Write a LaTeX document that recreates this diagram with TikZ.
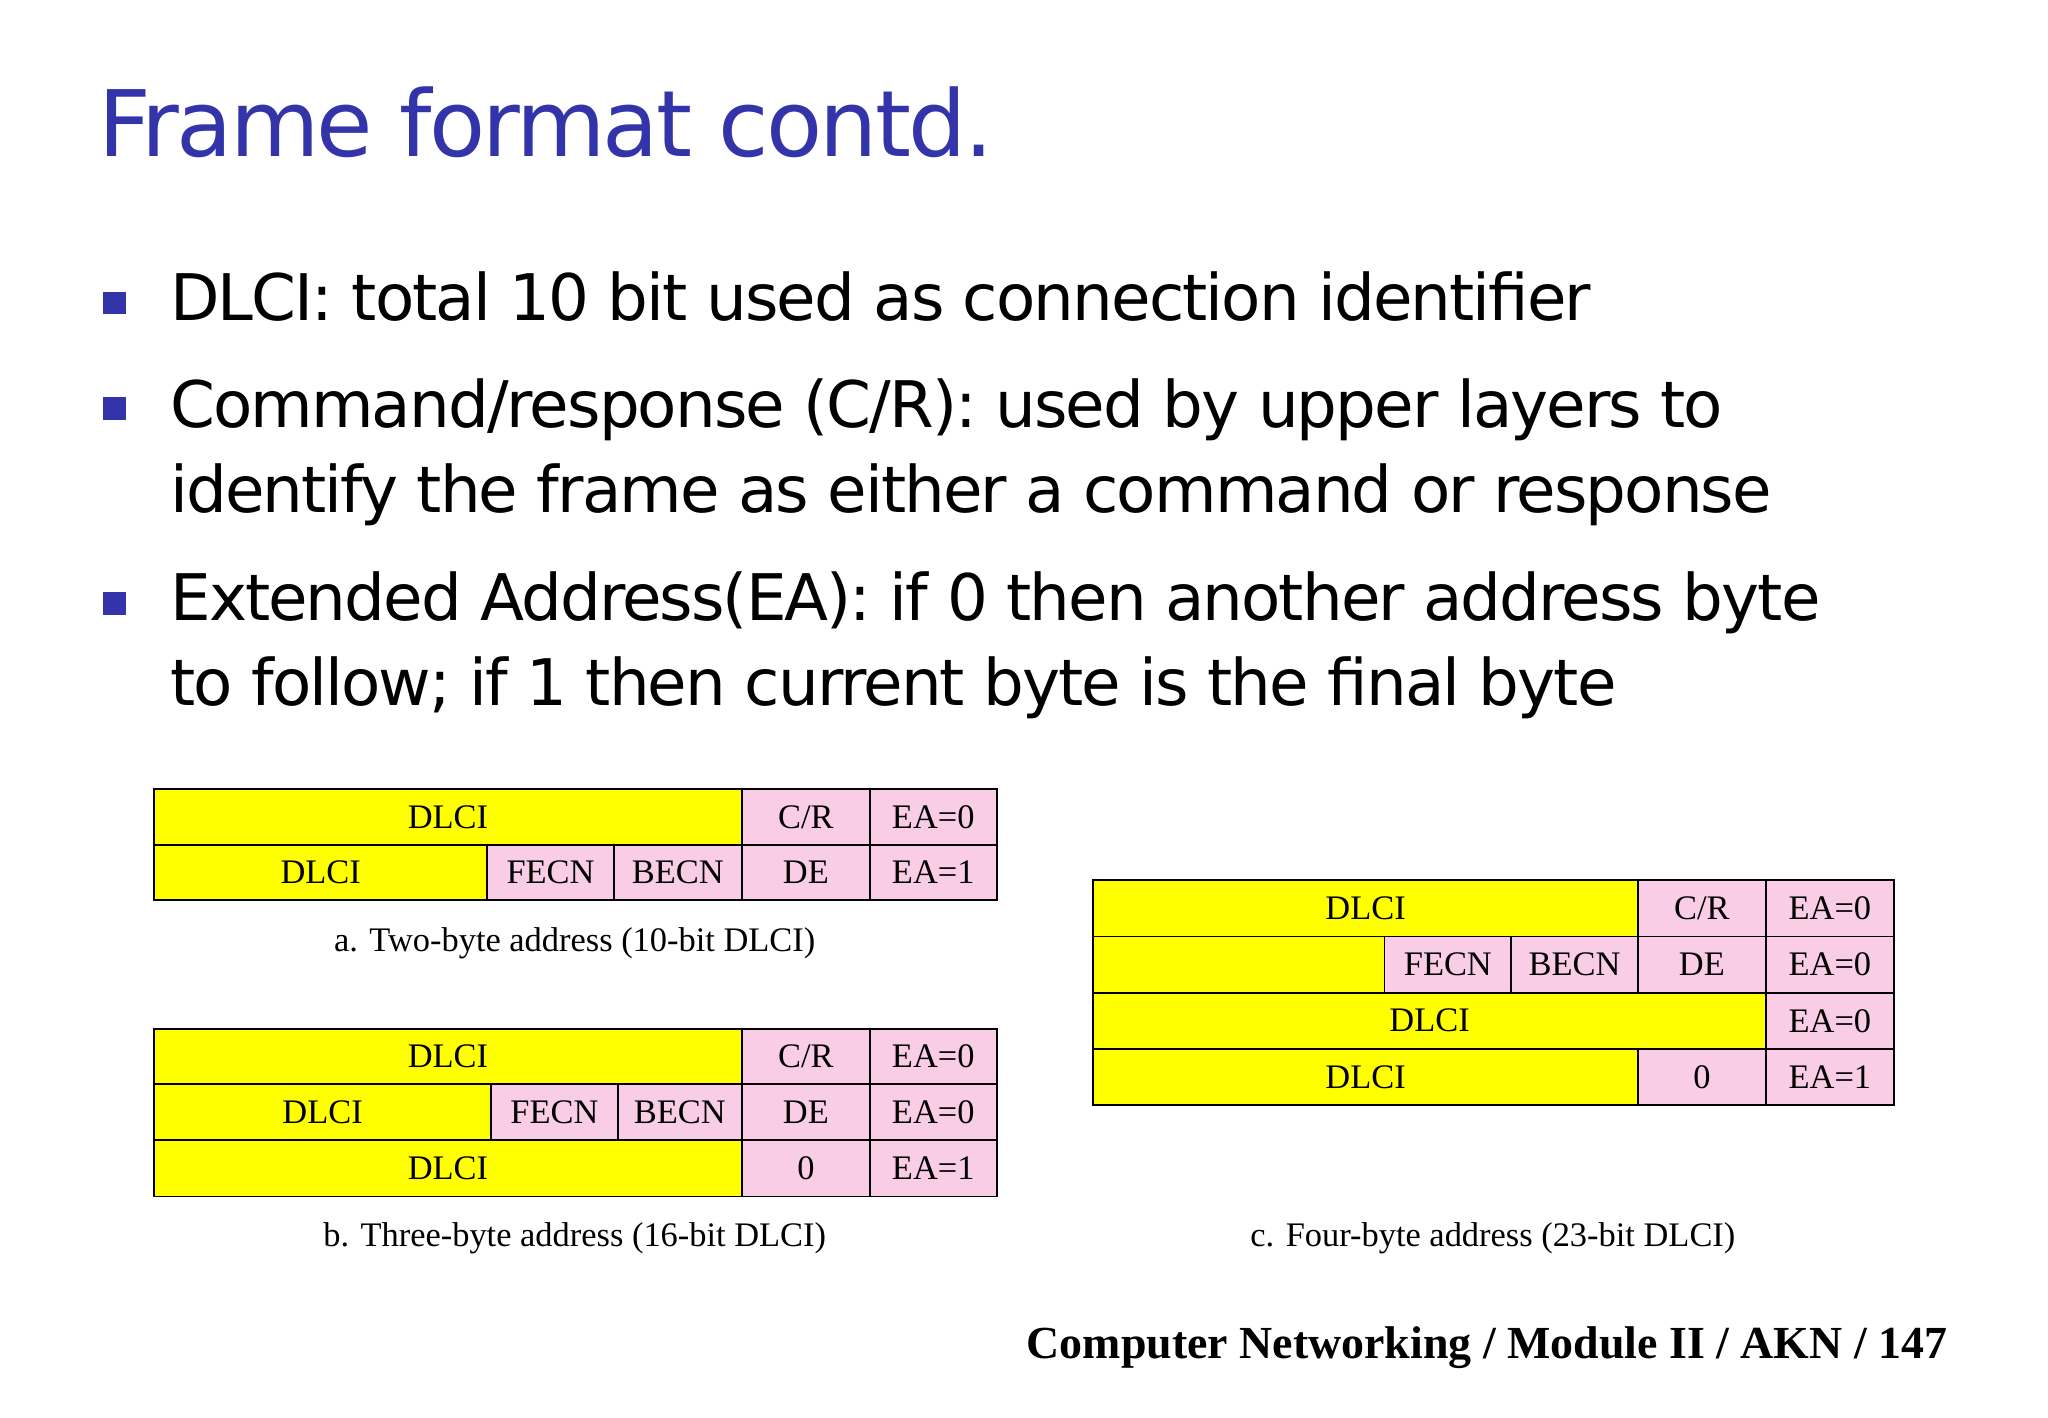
\documentclass[tikz,border=0pt]{standalone}
\usepackage{fontspec}
\setmainfont{Liberation Serif}
\newfontfamily\tah{DejaVu Sans}
\definecolor{tblue}{HTML}{3333AA}
\definecolor{pk}{HTML}{F9CDE6}
\definecolor{yl}{HTML}{FFFF00}
\begin{document}
\begin{tikzpicture}[x=0.02cm,y=-0.02cm,
 cellY/.style={draw,thick,fill=yl},
 cellP/.style={draw,thick,fill=pk},
 lbl/.style={font=\fontsize{15}{15}\selectfont},
 body/.style={anchor=base west,inner sep=0,font=\tah\fontsize{28}{28}\selectfont\addfontfeatures{LetterSpace=-3}},
 bul/.style={fill=tblue,minimum size=10pt,inner sep=0},
 capt/.style={font=\fontsize{15}{15}\selectfont}]
\fill[white] (0,0) rectangle (1568,1085);
\node[anchor=base west,inner sep=0,text=tblue,font=\tah\fontsize{40}{40}\selectfont\addfontfeatures{LetterSpace=-3}] (title) at (75,120) {Frame format contd.};
\node[bul] (b1) at (88,232) {};
\node[bul] (b2) at (88,313) {};
\node[bul] (b3) at (88,462) {};
\node[body] (t1) at (130,245) {DLCI: total 10 bit used as connection identifier};
\node[body] (t2) at (130,327) {Command/response (C/R): used by upper layers to};
\node[body] (t3) at (130,392) {identify the frame as either a command or response};
\node[body] (t4) at (130,475) {Extended Address(EA): if 0 then another address byte};
\node[body] (t5) at (130,540) {to follow; if 1 then current byte is the final byte};
\newcommand\cellA[7]{\draw[#1] (#2,#3) rectangle (#4,#5); \node[lbl] (#7) at ({(#2+#4)/2},{(#3+#5)/2}) {#6};}
\cellA{cellY}{118}{604}{568}{647}{DLCI}{a11}
\cellA{cellP}{568}{604}{666}{647}{C/R}{a12}
\cellA{cellP}{666}{604}{763}{647}{EA=0}{a13}
\cellA{cellY}{118}{647}{373}{689}{DLCI}{a21}
\cellA{cellP}{373}{647}{470}{689}{FECN}{a22}
\cellA{cellP}{470}{647}{568}{689}{BECN}{a23}
\cellA{cellP}{568}{647}{666}{689}{DE}{a24}
\cellA{cellP}{666}{647}{763}{689}{EA=1}{a25}
\node[capt] (ca) at (440,722) {a. Two-byte address (10-bit DLCI)};
\cellA{cellY}{118}{788}{568}{830}{DLCI}{b11}
\cellA{cellP}{568}{788}{666}{830}{C/R}{b12}
\cellA{cellP}{666}{788}{763}{830}{EA=0}{b13}
\cellA{cellY}{118}{830}{376}{873}{DLCI}{b21}
\cellA{cellP}{376}{830}{473}{873}{FECN}{b22}
\cellA{cellP}{473}{830}{568}{873}{BECN}{b23}
\cellA{cellP}{568}{830}{666}{873}{DE}{b24}
\cellA{cellP}{666}{830}{763}{873}{EA=0}{b25}
\cellA{cellY}{118}{873}{568}{916}{DLCI}{b31}
\cellA{cellP}{568}{873}{666}{916}{0}{b32}
\cellA{cellP}{666}{873}{763}{916}{EA=1}{b33}
\node[capt] (cb) at (440,948) {b. Three-byte address (16-bit DLCI)};
\cellA{cellY}{837}{674}{1254}{717}{DLCI}{c11}
\cellA{cellP}{1254}{674}{1352}{717}{C/R}{c12}
\cellA{cellP}{1352}{674}{1450}{717}{EA=0}{c13}
\cellA{cellY}{837}{717}{1060}{760}{}{c21}
\cellA{cellP}{1060}{717}{1157}{760}{FECN}{c22}
\cellA{cellP}{1157}{717}{1254}{760}{BECN}{c23}
\cellA{cellP}{1254}{717}{1352}{760}{DE}{c24}
\cellA{cellP}{1352}{717}{1450}{760}{EA=0}{c25}
\cellA{cellY}{837}{760}{1352}{803}{DLCI}{c31}
\cellA{cellP}{1352}{760}{1450}{803}{EA=0}{c32}
\cellA{cellY}{837}{803}{1254}{846}{DLCI}{c41}
\cellA{cellP}{1254}{803}{1352}{846}{0}{c42}
\cellA{cellP}{1352}{803}{1450}{846}{EA=1}{c43}
\node[capt] (cc) at (1143,948) {c. Four-byte address (23-bit DLCI)};
\node[anchor=east,font=\bfseries\fontsize{20}{20}\selectfont] (foot) at (1497,1032) {Computer Networking / Module II / AKN / 147};
\end{tikzpicture}
\end{document}
